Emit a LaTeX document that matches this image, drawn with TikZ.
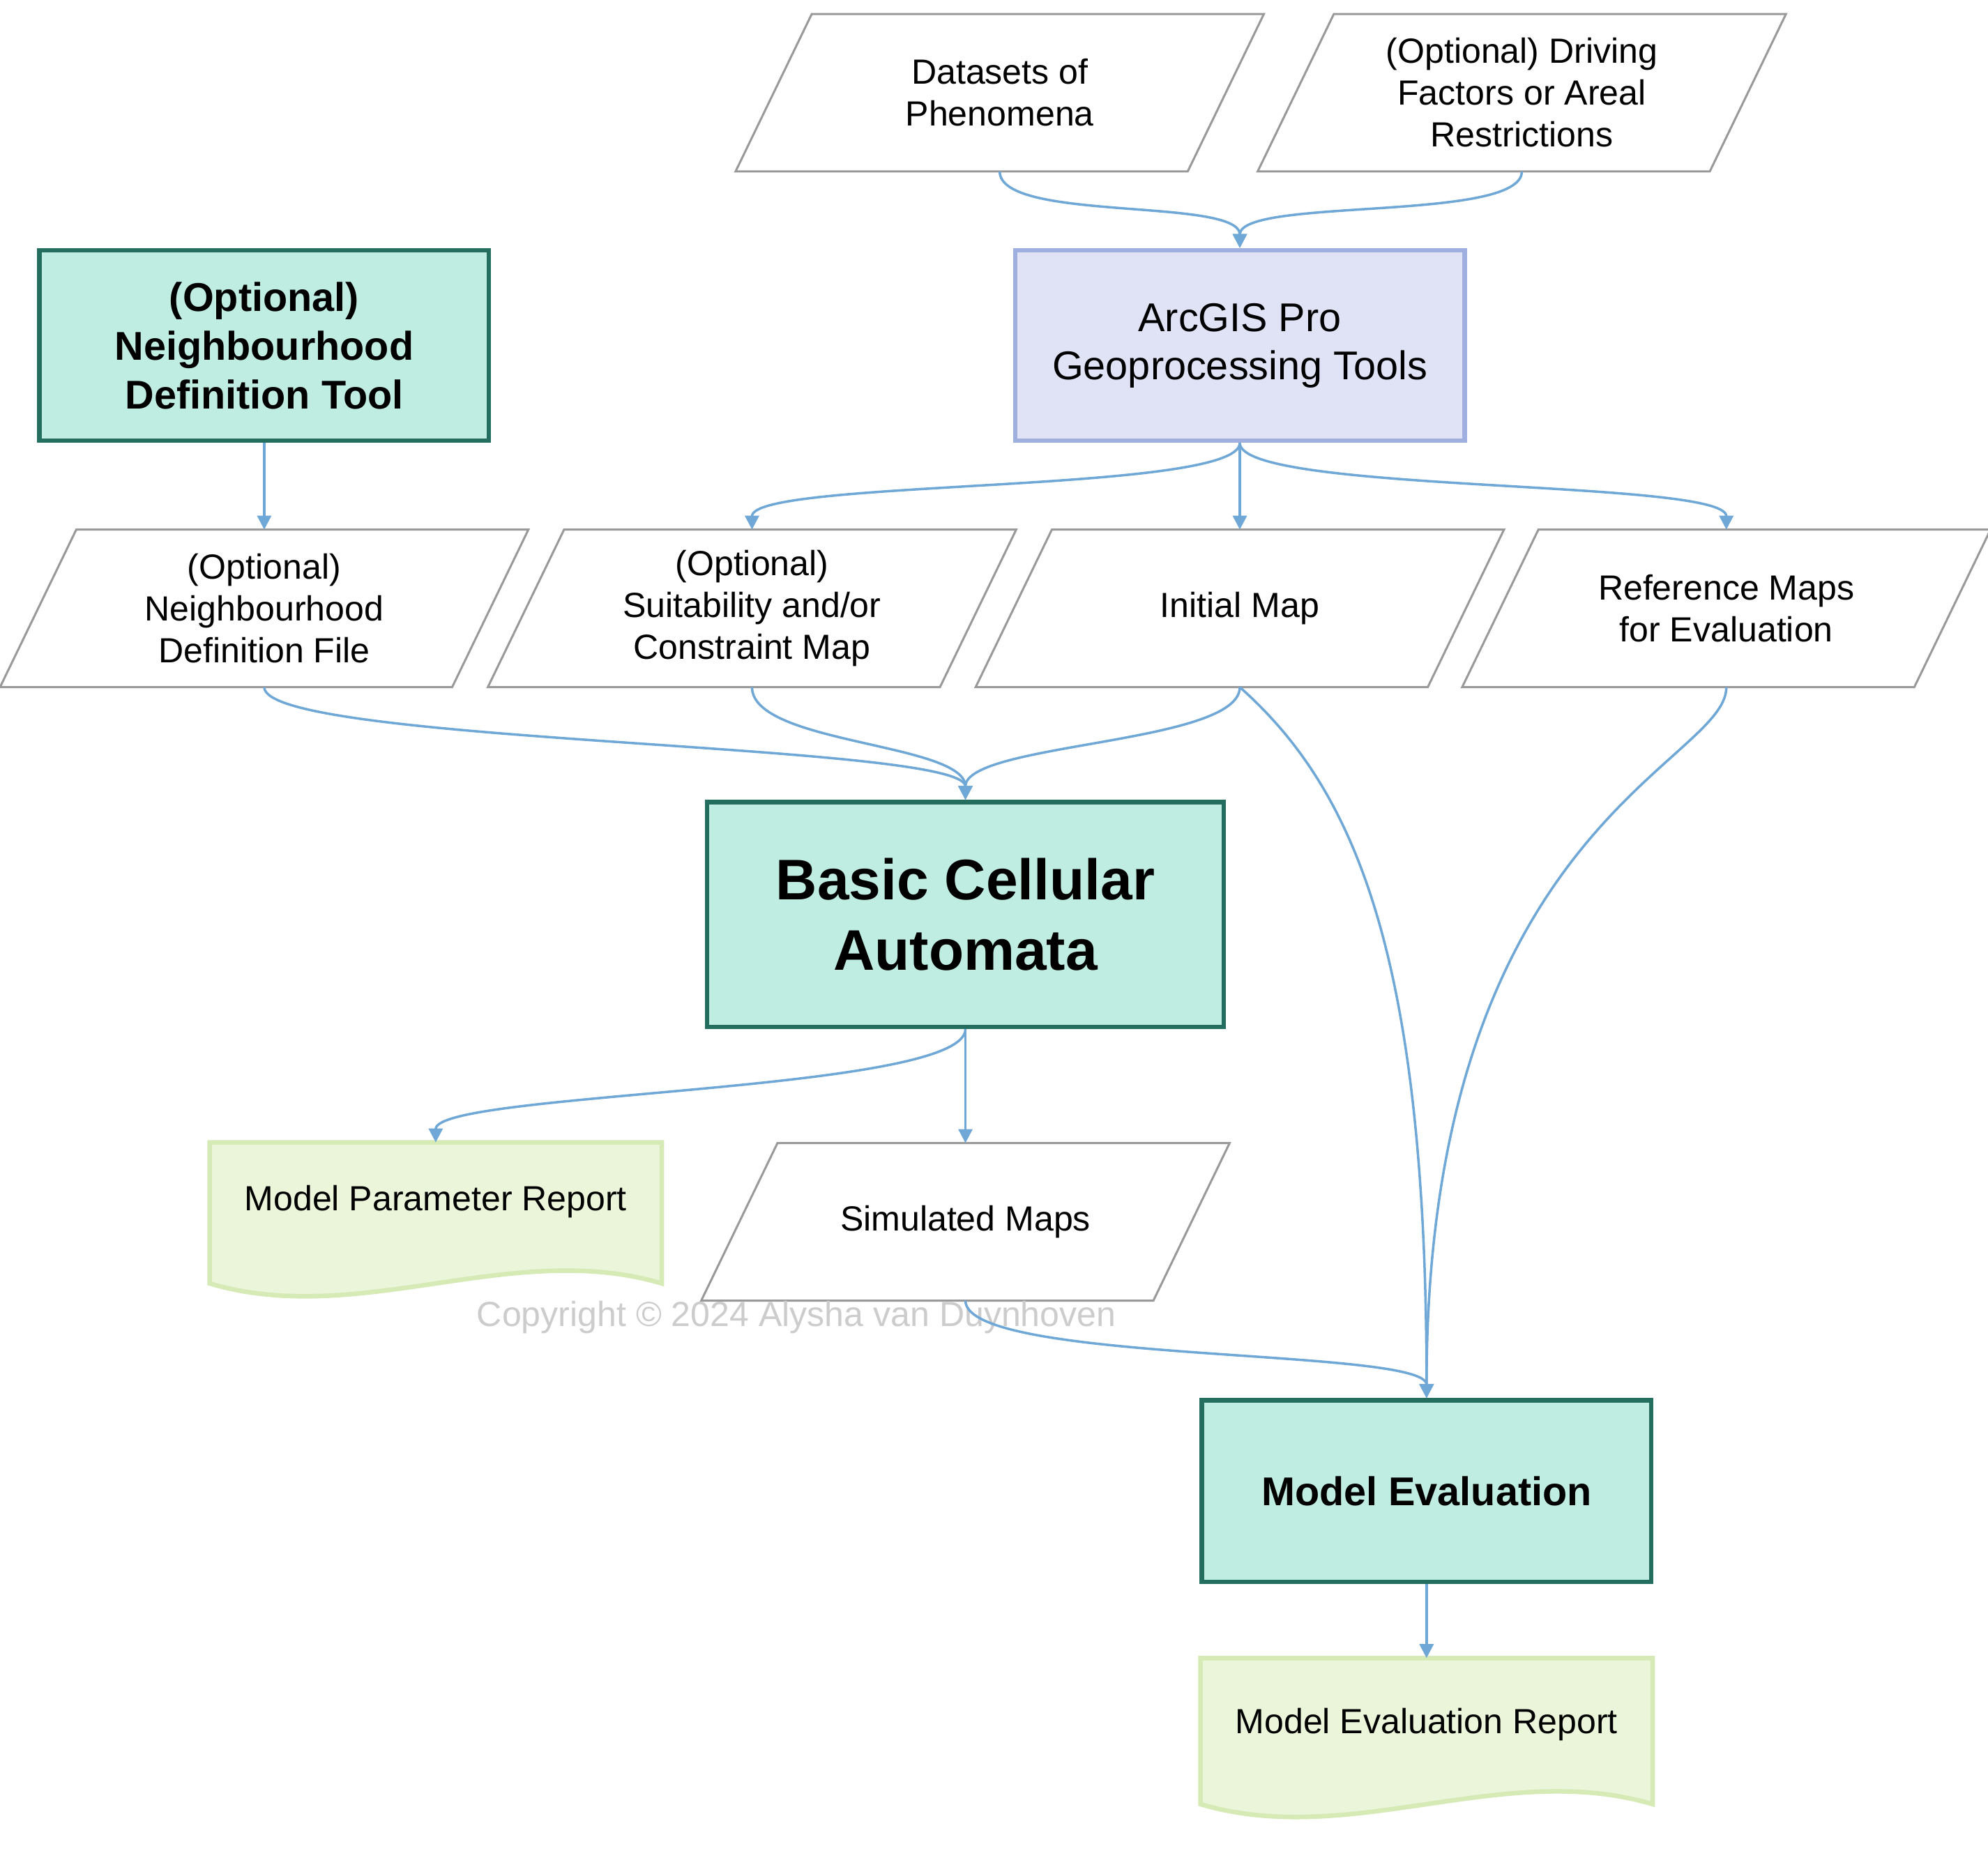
\documentclass[tikz,border=0pt]{standalone}
\usepackage{fontspec}
\setmainfont{Liberation Sans}
\usetikzlibrary{arrows.meta,calc}
\definecolor{edgeblue}{HTML}{6FA8D6}
\definecolor{toolfill}{HTML}{BFEDE2}
\definecolor{tooldraw}{HTML}{236E5E}
\definecolor{arcfill}{HTML}{DFE3F5}
\definecolor{arcdraw}{HTML}{9FB0E0}
\definecolor{docfill}{HTML}{EAF5D9}
\definecolor{docdraw}{HTML}{D5EAB5}
\tikzset{
  data/.style={minimum width=4.537cm,minimum height=1.572cm,align=center,font=\fontsize{10}{12}\selectfont},
  tool/.style={draw=tooldraw,fill=toolfill,line width=1.3pt,align=center,font=\fontsize{11.5}{14}\selectfont\bfseries,minimum width=4.524cm},
  doc/.style={minimum width=4.537cm,align=center,font=\fontsize{10}{12}\selectfont},
  para/.style={draw=gray!80,line width=0.6pt},
  edge/.style={draw=edgeblue,line width=0.7pt,-{Triangle[length=4pt,width=4pt]}}
}
\begin{document}
\begin{tikzpicture}[x=0.01278cm,y=-0.01278cm]
      % picture frame in reference pixels
      \useasboundingbox (0,0) rectangle (1565,1457);
      \node[data] (ds) at (787,73) {Datasets of\\Phenomena};
      \node[data] (df) at (1198,73) {(Optional) Driving\\Factors or Areal\\Restrictions};
      \node[data] (nf) at (208,479) {(Optional)\\Neighbourhood\\Definition File};
      \node[data] (sm) at (592,479) {(Optional)\\Suitability and/or\\Constraint Map};
      \node[data] (im) at (976,479) {Initial Map};
      \node[data] (rm) at (1359,479) {Reference Maps\\for Evaluation};
      \node[data] (sim) at (760,962) {Simulated Maps};
      \foreach \n in {ds,df,nf,sm,im,rm,sim}
        \draw[para] ($(\n.south west)+(-30,0)$) -- ($(\n.north west)+(30,0)$) -- ($(\n.north east)+(30,0)$) -- ($(\n.south east)+(-30,0)$) -- cycle;
      \node[draw=arcdraw,fill=arcfill,line width=1.3pt,align=center,minimum width=4.524cm,minimum height=1.917cm,font=\fontsize{11.5}{13.8}\selectfont] (arc) at (976,272) {ArcGIS Pro\\Geoprocessing Tools};
      \node[tool,minimum height=1.917cm] (nt) at (208,272) {(Optional)\\Neighbourhood\\Definition Tool};
      \node[tool,minimum width=5.2cm,minimum height=2.262cm,font=\fontsize{16.4}{20}\selectfont\bfseries] (ca) at (760,720) {Basic Cellular\\Automata};
      \node[tool,minimum height=1.827cm] (ev) at (1123,1174) {Model Evaluation};
      % documents with wavy bottom
      \node[doc,minimum height=1.406cm] (mpr) at (343,955) {};
      \node[doc,minimum height=1.457cm] (mer) at (1123,1363) {};
      \foreach \n in {mpr,mer}
        \draw[draw=docdraw,fill=docfill,line width=1.3pt] (\n.north west) -- (\n.north east) -- (\n.south east)
          .. controls ($(\n.south east)+(-118,-35)$) and ($(\n.south west)+(118,35)$) .. (\n.south west) -- cycle;
      \node[font=\fontsize{10}{12}\selectfont] at (343,946) {Model Parameter Report};
      \node[font=\fontsize{10}{12}\selectfont] at (1123,1358) {Model Evaluation Report};
      \node[text=gray!40,font=\fontsize{10}{12}\selectfont] (cp) at (627,1037) {Copyright © 2024 Alysha van Duynhoven};
      % connectors
      \draw[edge] (ds.south) .. controls +(0,40) and +(0,-40) .. (arc.north);
      \draw[edge] (df.south) .. controls +(0,40) and +(0,-40) .. (arc.north);
      \draw[edge] (nt.south) -- (nf.north);
      \draw[edge] (arc.south) .. controls +(0,40) and +(0,-40) .. (sm.north);
      \draw[edge] (arc.south) -- (im.north);
      \draw[edge] (arc.south) .. controls +(0,40) and +(0,-40) .. (rm.north);
      \draw[edge] (nf.south) .. controls +(0,45) and +(0,-45) .. (ca.north);
      \draw[edge] (sm.south) .. controls +(0,45) and +(0,-45) .. (ca.north);
      \draw[edge] (im.south) .. controls +(0,45) and +(0,-45) .. (ca.north);
      \draw[edge] (im.south) .. controls +(90,80) and +(0,-350) .. (ev.north);
      \draw[edge] (rm.south) .. controls +(0,60) and +(0,-450) .. (ev.north);
      \draw[edge] (ca.south) .. controls +(0,50) and +(0,-40) .. (mpr.north);
      \draw[edge] (ca.south) -- (sim.north);
      \draw[edge] (sim.south) .. controls +(0,50) and +(0,-40) .. (ev.north);
      \draw[edge] (ev.south) -- (mer.north);
    \end{tikzpicture}
\end{document}
